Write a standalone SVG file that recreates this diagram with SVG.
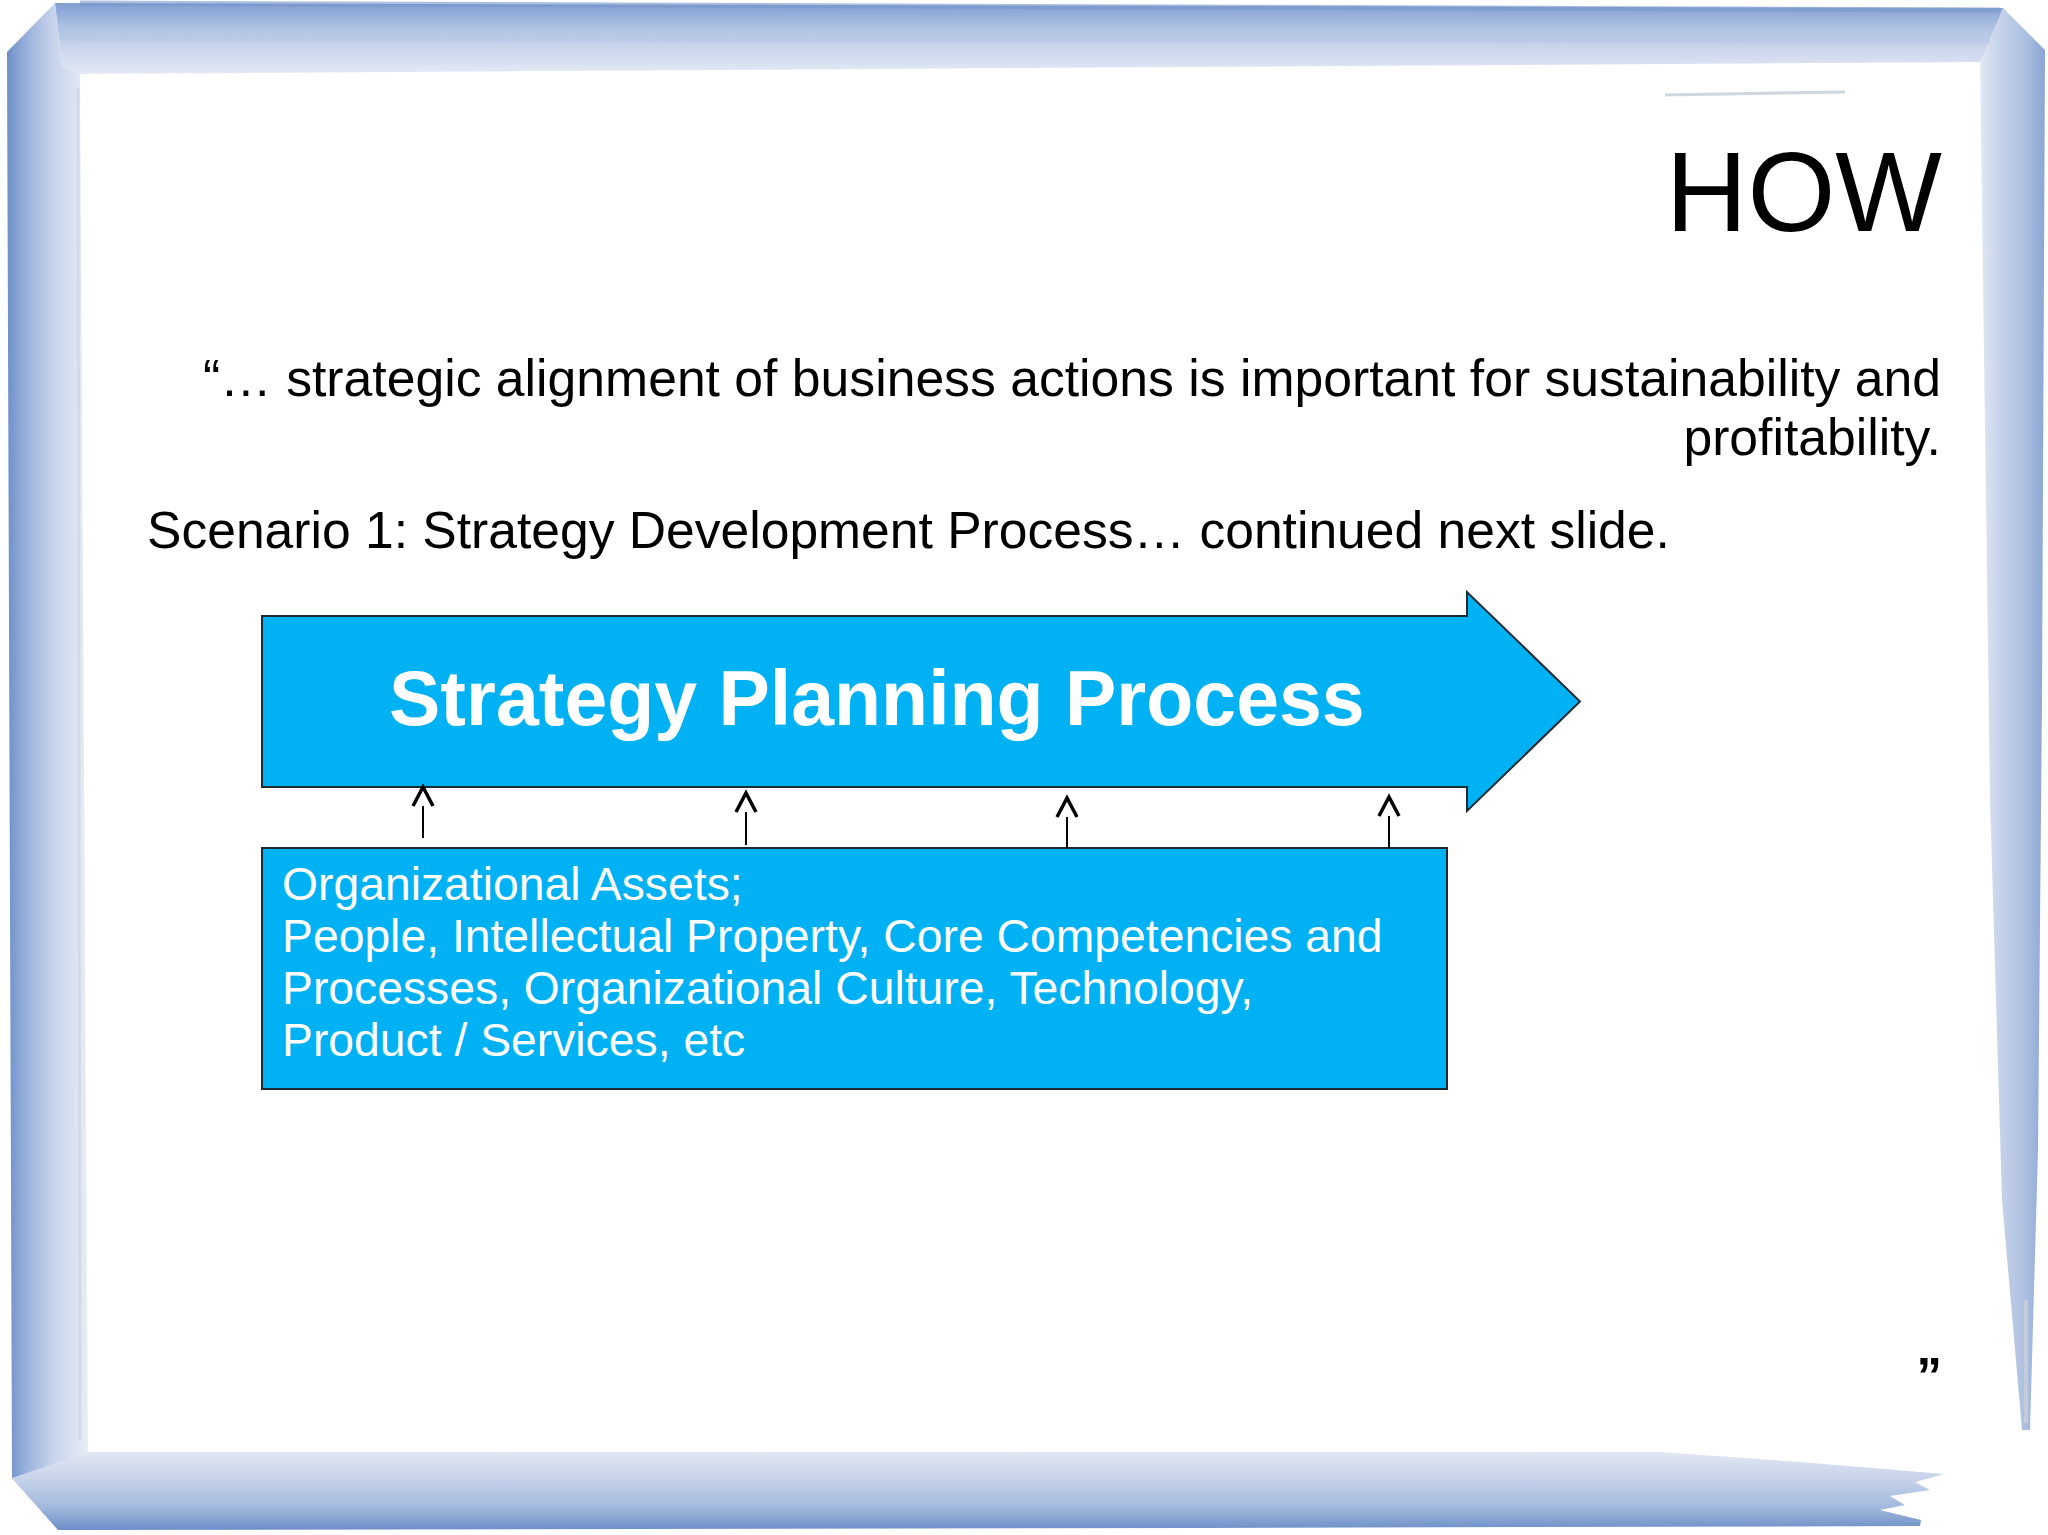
<svg xmlns="http://www.w3.org/2000/svg" width="2048" height="1535" viewBox="0 0 2048 1535">
  <defs>
    <linearGradient id="gTop" gradientUnits="userSpaceOnUse" x1="0" y1="4" x2="0" y2="74">
      <stop offset="0" stop-color="#819fd1"/>
      <stop offset="0.3" stop-color="#aabee1"/>
      <stop offset="0.6" stop-color="#c8d4eb"/>
      <stop offset="1" stop-color="#e4eaf5"/>
    </linearGradient>
    <linearGradient id="gLeft" gradientUnits="userSpaceOnUse" x1="7" y1="0" x2="88" y2="0">
      <stop offset="0" stop-color="#6d8ec7"/>
      <stop offset="0.22" stop-color="#96afda"/>
      <stop offset="0.55" stop-color="#c5d2eb"/>
      <stop offset="1" stop-color="#e8edf6"/>
    </linearGradient>
    <linearGradient id="gRight" gradientUnits="userSpaceOnUse" x1="1978" y1="0" x2="2045" y2="0">
      <stop offset="0" stop-color="#e6ebf5"/>
      <stop offset="0.3" stop-color="#c8d4ea"/>
      <stop offset="0.7" stop-color="#adc0e1"/>
      <stop offset="1" stop-color="#8aa6d4"/>
    </linearGradient>
    <linearGradient id="gBottom" gradientUnits="userSpaceOnUse" x1="0" y1="1452" x2="0" y2="1530">
      <stop offset="0" stop-color="#e2e8f3"/>
      <stop offset="0.35" stop-color="#c6d2ea"/>
      <stop offset="0.7" stop-color="#a4b9de"/>
      <stop offset="1" stop-color="#6c8fc7"/>
    </linearGradient>
    <style>
      .t { font-family: "Liberation Sans", Arial, sans-serif; }
      .shape { fill: #00b2f4; stroke: #1b2a33; stroke-width: 2; }
      .head { fill: none; stroke: #000; stroke-width: 3.5; stroke-linejoin: miter; }
      .stem { stroke: #000; stroke-width: 2; }
      .wt { fill: #ffffff; }
    </style>
  </defs>

  <rect width="2048" height="1535" fill="#ffffff"/>

  <g id="frame">
    <path d="M55,3 L2003,8 L2030,40 L1985,62 L80,74 L62,66 Z" fill="url(#gTop)"/>
    <path d="M7,52 L55,3 L62,66 L80,74 L88,1452 L58,1530 L12,1478 Z" fill="url(#gLeft)"/>
    <path d="M2003,8 L2045,50 L2042,700 L2038,1150 L2030,1430 L2022,1430 L2002,1200 L1990,800 L1980,62 Z" fill="url(#gRight)"/>
    <path d="M12,1478 L88,1452 L1660,1452 L1800,1462 L1944,1474 L1915,1482 L1930,1490 L1890,1496 L1905,1505 L1880,1510 L1921,1520 L1920,1526 L1200,1528 L58,1530 Z" fill="url(#gBottom)"/>
    <path d="M60,38 L1990,40" stroke="#b7c7e6" stroke-width="6" fill="none" opacity="0.7"/>
    <path d="M80,3 L2000,10" stroke="#7796cb" stroke-width="5" fill="none" opacity="0.6"/>
    <path d="M78,88 L80,1440" stroke="#d3dae6" stroke-width="3" fill="none"/>
    <path d="M1665,95 L1845,92" stroke="#d0d6e0" stroke-width="3" fill="none"/>
    <path d="M2026,1300 L2026,1423" stroke="#c5cbd8" stroke-width="4" fill="none"/>
  </g>

  <g id="title">
    <text class="t" x="1942" y="231" font-size="113" text-anchor="end" fill="#000">HOW</text>
  </g>

  <g id="quote">
    <text class="t" x="1941" y="396" font-size="51.7" text-anchor="end" fill="#000">“… strategic alignment of business actions is important for sustainability and</text>
    <text class="t" x="1941" y="455" font-size="51.7" text-anchor="end" fill="#000">profitability.</text>
  </g>

  <g id="scenario">
    <text class="t" x="147" y="548" font-size="51.6" fill="#000">Scenario 1: Strategy Development Process… continued next slide.</text>
  </g>

  <g id="node-process">
    <path class="shape" d="M262,616 H1467 V592 L1580,701.5 L1467,811 V787 H262 Z"/>
    <text class="t wt" x="389" y="725" font-size="77" font-weight="bold">Strategy Planning Process</text>
  </g>

  <g id="node-assets">
    <rect class="shape" x="262" y="848" width="1185" height="241"/>
    <text class="t wt" font-size="46.3">
      <tspan x="282" y="900">Organizational Assets;</tspan>
      <tspan x="282" y="952">People, Intellectual Property, Core Competencies and</tspan>
      <tspan x="282" y="1004">Processes, Organizational Culture, Technology,</tspan>
      <tspan x="282" y="1056">Product / Services, etc</tspan>
    </text>
  </g>

  <g id="connectors">
    <polyline class="head" points="413,806 423,787 433,806"/>
    <line class="stem" x1="423" y1="806" x2="423" y2="838"/>
    <polyline class="head" points="736,812 746,793 756,812"/>
    <line class="stem" x1="746" y1="812" x2="746" y2="845"/>
    <polyline class="head" points="1057,817 1067,798 1077,817"/>
    <line class="stem" x1="1067" y1="817" x2="1067" y2="848"/>
    <polyline class="head" points="1379,816 1389,797 1399,816"/>
    <line class="stem" x1="1389" y1="816" x2="1389" y2="848"/>
  </g>

  <g id="closing-quote">
    <text class="t" x="1942" y="1394" font-size="51" text-anchor="end" fill="#000" font-weight="bold">”</text>
  </g>
</svg>
